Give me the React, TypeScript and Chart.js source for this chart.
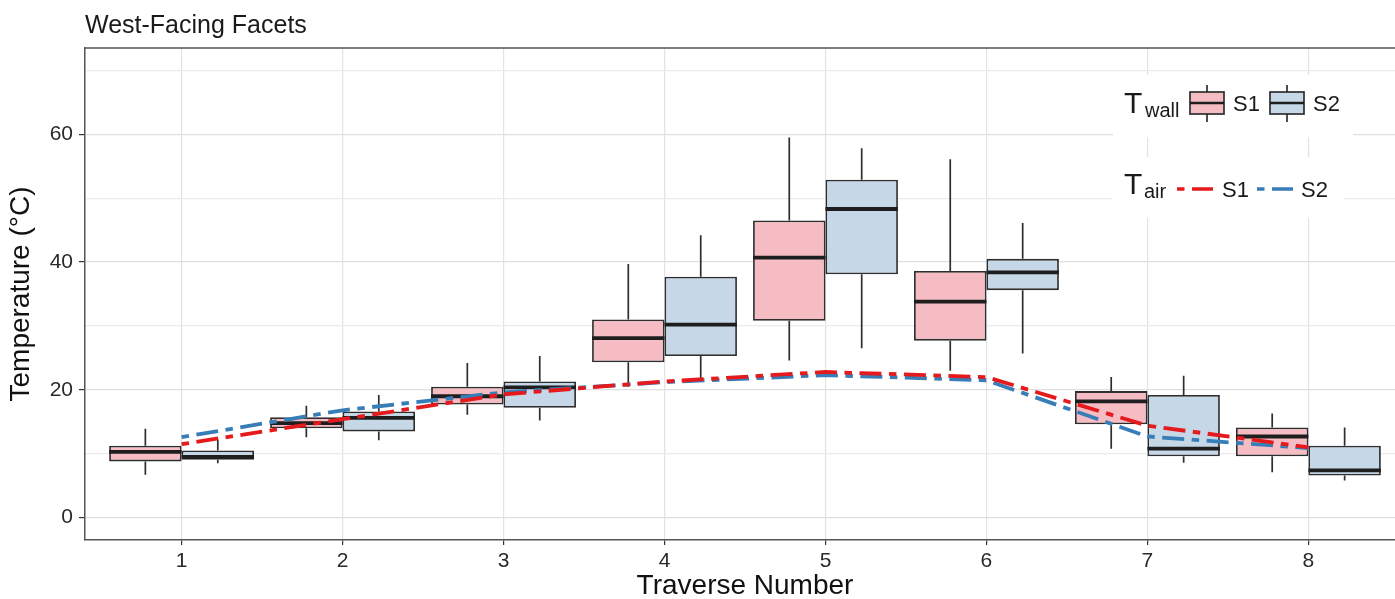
import React, { useEffect, useRef } from 'react';
import { Chart, registerables } from 'chart.js';

Chart.register(...registerables);

const FONT = "'Liberation Sans', Arial, Helvetica, sans-serif";

// ---- data ----
const traverses = [1, 2, 3, 4, 5, 6, 7, 8];
const yTicks = [0, 10, 20, 30, 40, 50, 60, 70];

// Wall temperature boxplots, S1
const s1Min = [6.7, 12.6, 16.1, 20.5, 24.6, 23.0, 10.8, 7.1];
const s1Q1 = [8.8, 14.0, 17.7, 24.3, 30.8, 27.7, 14.6, 9.6];
const s1Med = [10.3, 14.8, 19.0, 28.1, 40.7, 33.8, 18.2, 12.7];
const s1Q3 = [11.25, 15.7, 20.5, 31.0, 46.5, 38.6, 19.8, 14.1];
const s1Max = [13.9, 17.5, 24.2, 39.7, 59.5, 56.1, 22.0, 16.3];

// Wall temperature boxplots, S2
const s2Min = [8.5, 12.1, 15.2, 21.8, 26.5, 25.7, 8.6, 5.8];
const s2Q1 = [9.06, 13.5, 17.2, 25.3, 38.1, 35.6, 9.6, 6.6];
const s2Med = [9.5, 15.6, 20.4, 30.2, 48.3, 38.4, 10.8, 7.4];
const s2Q3 = [10.5, 16.6, 21.3, 37.7, 52.9, 40.5, 19.2, 11.25];
const s2Max = [12.2, 19.2, 25.3, 44.2, 57.8, 46.1, 22.2, 14.1];

// Air temperature lines
const airS1 = [11.5, 15.4, 19.3, 21.3, 22.8, 22.0, 14.4, 11.0];
const airS2 = [12.6, 16.8, 19.6, 21.2, 22.3, 21.5, 12.7, 10.9];

const PINK = '#F5BCC3';
const BLUE = '#C6D7E8';
const RED = '#E41A1C';
const LBLUE = '#377EB8';
const DASH = [7.5, 7.5, 22, 7.5];
const EDGE = '#2e2e2e';

const boxExtras = {
  id: 'boxExtras',
  beforeDatasetDraw(chart: any, args: any) {
    const ds: any = chart.data.datasets[args.index];
    if (!ds.boxMin) return;
    const ctx = chart.ctx;
    const y = chart.scales.y;
    ctx.save();
    ctx.strokeStyle = EDGE;
    ctx.lineWidth = 1.7;
    args.meta.data.forEach((bar: any, i: number) => {
      const x = bar.x;
      ctx.beginPath();
      ctx.moveTo(x, y.getPixelForValue(ds.boxMax[i]));
      ctx.lineTo(x, y.getPixelForValue(ds.data[i].y[1]));
      ctx.moveTo(x, y.getPixelForValue(ds.data[i].y[0]));
      ctx.lineTo(x, y.getPixelForValue(ds.boxMin[i]));
      ctx.stroke();
    });
    ctx.restore();
  },
  afterDatasetDraw(chart: any, args: any) {
    const ds: any = chart.data.datasets[args.index];
    if (!ds.boxMed) return;
    const ctx = chart.ctx;
    const y = chart.scales.y;
    ctx.save();
    ctx.strokeStyle = '#1e1e1e';
    ctx.lineWidth = 3.8;
    args.meta.data.forEach((bar: any, i: number) => {
      const py = y.getPixelForValue(ds.boxMed[i]);
      ctx.beginPath();
      ctx.moveTo(bar.x - bar.width / 2, py);
      ctx.lineTo(bar.x + bar.width / 2, py);
      ctx.stroke();
    });
    ctx.restore();
  },
  afterDraw(chart: any) {
    const ctx = chart.ctx;
    const a = chart.chartArea;
    ctx.save();
    // panel border (top / right)
    ctx.strokeStyle = '#555';
    ctx.lineWidth = 1.5;
    ctx.beginPath();
    ctx.moveTo(a.left, a.top);
    ctx.lineTo(a.right, a.top);
    ctx.lineTo(a.right, a.bottom);
    ctx.stroke();

    // legend backgrounds
    ctx.fillStyle = '#fff';
    ctx.fillRect(1113, 75, 240, 62);
    ctx.fillRect(1112, 157, 232, 61);

    ctx.fillStyle = '#1a1a1a';
    ctx.textBaseline = 'alphabetic';
    ctx.textAlign = 'left';
    // Row 1: T_wall
    ctx.font = `30px ${FONT}`;
    ctx.fillText('T', 1124, 113);
    ctx.font = `20px ${FONT}`;
    ctx.fillText('wall', 1145, 117);
    const glyph = (x0: number, fill: string) => {
      const w = 34;
      ctx.fillStyle = fill;
      ctx.fillRect(x0, 92, w, 22);
      ctx.strokeStyle = EDGE;
      ctx.lineWidth = 1.7;
      ctx.strokeRect(x0, 92, w, 22);
      ctx.beginPath();
      ctx.moveTo(x0 + w / 2, 85);
      ctx.lineTo(x0 + w / 2, 92);
      ctx.moveTo(x0 + w / 2, 114);
      ctx.lineTo(x0 + w / 2, 122);
      ctx.stroke();
      ctx.strokeStyle = '#1e1e1e';
      ctx.lineWidth = 2.5;
      ctx.beginPath();
      ctx.moveTo(x0, 103);
      ctx.lineTo(x0 + w, 103);
      ctx.stroke();
    };
    glyph(1190, PINK);
    glyph(1270, BLUE);
    ctx.fillStyle = '#1a1a1a';
    ctx.font = `22px ${FONT}`;
    ctx.fillText('S1', 1233, 111);
    ctx.fillText('S2', 1313, 111);

    // Row 2: T_air
    ctx.font = `30px ${FONT}`;
    ctx.fillText('T', 1124, 194);
    ctx.font = `20px ${FONT}`;
    ctx.fillText('air', 1144, 198);
    const dashGlyph = (x0: number, color: string) => {
      ctx.strokeStyle = color;
      ctx.lineWidth = 3.5;
      ctx.setLineDash(DASH);
      ctx.beginPath();
      ctx.moveTo(x0, 189);
      ctx.lineTo(x0 + 36, 189);
      ctx.stroke();
      ctx.setLineDash([]);
    };
    dashGlyph(1177, RED);
    dashGlyph(1257, LBLUE);
    ctx.fillStyle = '#1a1a1a';
    ctx.font = `22px ${FONT}`;
    ctx.fillText('S1', 1222, 197);
    ctx.fillText('S2', 1301, 197);
    ctx.restore();
  },
};

export default function App() {
  const ref = useRef<HTMLCanvasElement>(null);

  useEffect(() => {
    const canvas = ref.current;
    if (!canvas) return;
    const chart = new Chart(canvas, {
      type: 'bar',
      data: {
        datasets: [
          {
            type: 'bar',
            label: 'T_wall S1',
            data: traverses.map((t, i) => ({ x: t, y: [s1Q1[i], s1Q3[i]] })) as any,
            backgroundColor: PINK,
            borderColor: EDGE,
            borderWidth: 1.8,
            borderSkipped: false,
            categoryPercentage: 0.9,
            barPercentage: 1,
            order: 2,
            boxMin: s1Min,
            boxMed: s1Med,
            boxMax: s1Max,
          } as any,
          {
            type: 'bar',
            label: 'T_wall S2',
            data: traverses.map((t, i) => ({ x: t, y: [s2Q1[i], s2Q3[i]] })) as any,
            backgroundColor: BLUE,
            borderColor: EDGE,
            borderWidth: 1.8,
            borderSkipped: false,
            categoryPercentage: 0.9,
            barPercentage: 1,
            order: 2,
            boxMin: s2Min,
            boxMed: s2Med,
            boxMax: s2Max,
          } as any,
          {
            type: 'line',
            label: 'T_air S1',
            data: traverses.map((t, i) => ({ x: t, y: airS1[i] })),
            borderColor: RED,
            borderWidth: 3.8,
            borderDash: DASH,
            pointRadius: 0,
            tension: 0,
            fill: false,
            order: 0,
          } as any,
          {
            type: 'line',
            label: 'T_air S2',
            data: traverses.map((t, i) => ({ x: t, y: airS2[i] })),
            borderColor: LBLUE,
            borderWidth: 3.8,
            borderDash: DASH,
            pointRadius: 0,
            tension: 0,
            fill: false,
            order: 1,
          } as any,
        ],
      },
      options: {
        responsive: false,
        animation: false,
        layout: { padding: 0 },
        plugins: {
          legend: { display: false },
          tooltip: { enabled: false },
          title: {
            display: true,
            text: 'West-Facing Facets',
            align: 'start',
            fullSize: false,
            color: '#1a1a1a',
            font: { family: FONT, size: 25, weight: 'normal', lineHeight: 1.2 },
            padding: { top: 11, bottom: 7 },
          } as any,
        },
        scales: {
          x: {
            type: 'linear',
            min: 0.4,
            max: 8.6,
            offset: false,
            afterBuildTicks: (s: any) => {
              s.ticks = traverses.map((v) => ({ value: v }));
            },
            afterFit: (s: any) => {
              s.height = 59;
            },
            grid: {
              offset: false,
              color: '#e3e3e3',
              lineWidth: 1.2,
              tickLength: 5,
              tickColor: '#333',
              tickWidth: 1.2,
            },
            border: { display: true, color: '#555', width: 1.5 },
            ticks: {
              color: '#2a2a2a',
              font: { family: FONT, size: 21 },
              padding: 4,
              autoSkip: false,
              maxRotation: 0,
              callback: (v: any) => String(v),
            },
            title: {
              display: true,
              text: 'Traverse Number',
              color: '#111',
              font: { family: FONT, size: 28, lineHeight: 1 },
              padding: { top: 0, bottom: -1 },
            },
          } as any,
          y: {
            type: 'linear',
            min: -3.5,
            max: 73.5,
            afterBuildTicks: (s: any) => {
              s.ticks = yTicks.map((v) => ({ value: v }));
            },
            afterFit: (s: any) => {
              s.width = 85;
            },
            grid: {
              color: (c: any) => (c.tick && c.tick.value % 20 === 0 ? '#e0e0e0' : '#ebebeb'),
              lineWidth: 1.2,
              tickLength: 6,
              tickColor: (c: any) => (c.tick && c.tick.value % 20 === 0 ? '#333' : 'rgba(0,0,0,0)'),
              tickWidth: 1.2,
            },
            border: { display: true, color: '#555', width: 1.5 },
            ticks: {
              color: '#2a2a2a',
              font: { family: FONT, size: 21 },
              padding: 6,
              callback: (v: any) => (Number(v) % 20 === 0 ? String(v) : ''),
            },
            title: {
              display: true,
              text: 'Temperature (°C)',
              color: '#111',
              font: { family: FONT, size: 28, lineHeight: 1.2 },
              padding: { top: 4, bottom: 0 },
            },
          } as any,
        },
      },
      plugins: [boxExtras],
    });
    return () => chart.destroy();
  }, []);

  return (
    <div
      style={{
        position: 'absolute',
        left: 0,
        top: 0,
        width: 1395,
        height: 599,
        overflow: 'hidden',
        background: '#fff',
      }}
    >
      <canvas ref={ref} width={1405} height={599} style={{ display: 'block', width: 1405, height: 599 }} />
    </div>
  );
}
